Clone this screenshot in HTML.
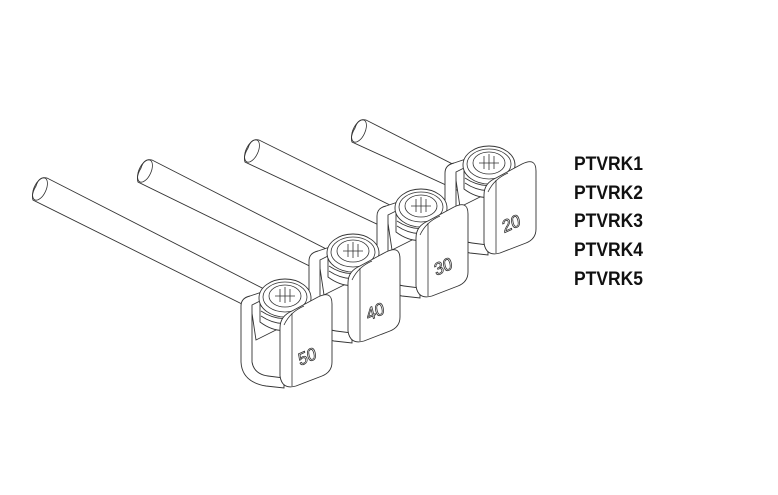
<!DOCTYPE html>
<html><head><meta charset="utf-8"><style>
html,body{margin:0;padding:0;background:#fff;width:778px;height:495px;overflow:hidden}
svg{display:block}
.l{fill:none;stroke:#333;stroke-width:0.8}
.w{fill:#fff;stroke:#333;stroke-width:0.9}
.t{font-family:"Liberation Sans",sans-serif;font-weight:bold;font-size:19px;fill:#111}
.n{font-family:"Liberation Sans",sans-serif;font-size:17px;fill:#fff;stroke:#333;stroke-width:0.8}
</style></head><body>
<svg width="778" height="495" viewBox="0 0 778 495">
<defs>
<g id="clamp">
  <path class="w" d="M250,300 L268,290 Q272,286 278,288 L292,294 L300,300 L300,318 L256,340 Z"/>
  <path class="w" d="M241,306 Q241,298 250,296 L262,292 L262,300 L252,305 L252,362 Q254,374 268,376 L284,378 L284,388 L266,386 Q242,382 241,362 Z"/>
  <path class="w" d="M260,300 L260,322 Q284,340 310,320 L310,298 Z"/>
  <path class="l" d="M261,306 Q285,322 309,304 M261,311 Q285,327 309,309 M261,316 Q285,332 309,314"/>
  <ellipse class="w" cx="285" cy="298" rx="26" ry="19"/>
  <ellipse class="l" cx="285" cy="297" rx="22" ry="15"/>
  <ellipse class="l" cx="285" cy="296" rx="16" ry="11"/>
  <path class="l" d="M280,289 L280,302 M285,287 L285,303 M290,289 L290,302 M275,296 L295,296"/>
  <path class="w" d="M280,328 Q280,316 292,311 L318,297 Q332,290 332,304 L332,362 Q332,372 322,376 L296,386 Q282,390 280,376 Z"/>
  <path class="l" d="M292,313 L292,386 M284,325 Q290,312 304,306"/>
</g>
</defs>

<g>
  <path class="w" d="M355,128 Q358,118 366,120 L480,178 L470,196 L352,142 Q350,136 355,128 Z"/>
  <ellipse class="l" cx="359" cy="131" rx="6" ry="12" transform="rotate(25 359 131)"/>
</g>
<g transform="translate(204,-133)"><use href="#clamp"/>
<text class="n" transform="translate(300,366) rotate(-24) skewX(-10)">20</text></g>

<g>
  <path class="w" d="M248,148 Q251,138 259,140 L410,215 L400,235 L245,162 Q243,156 248,148 Z"/>
  <ellipse class="l" cx="252" cy="151" rx="6" ry="12" transform="rotate(25 252 151)"/>
</g>
<g transform="translate(136,-90)"><use href="#clamp"/>
<text class="n" transform="translate(300,366) rotate(-24) skewX(-10)">30</text></g>

<g>
  <path class="w" d="M141,168 Q144,158 152,160 L340,256 L330,276 L138,182 Q136,176 141,168 Z"/>
  <ellipse class="l" cx="145" cy="171" rx="6" ry="12" transform="rotate(25 145 171)"/>
</g>
<g transform="translate(68,-45)"><use href="#clamp"/>
<text class="n" transform="translate(300,366) rotate(-24) skewX(-10)">40</text></g>

<g>
  <path class="w" d="M36,186 Q39,176 47,178 L270,292 L262,314 L33,200 Q31,194 36,186 Z"/>
  <ellipse class="l" cx="40" cy="189" rx="6" ry="12" transform="rotate(25 40 189)"/>
</g>
<g><use href="#clamp"/>
<text class="n" transform="translate(300,366) rotate(-24) skewX(-10)">50</text></g>

<text class="t" x="574" y="170" textLength="69" lengthAdjust="spacingAndGlyphs">PTVRK1</text>
<text class="t" x="574" y="199" textLength="69" lengthAdjust="spacingAndGlyphs">PTVRK2</text>
<text class="t" x="574" y="227" textLength="69" lengthAdjust="spacingAndGlyphs">PTVRK3</text>
<text class="t" x="574" y="256" textLength="69" lengthAdjust="spacingAndGlyphs">PTVRK4</text>
<text class="t" x="574" y="285" textLength="69" lengthAdjust="spacingAndGlyphs">PTVRK5</text>
</svg>
</body></html>
